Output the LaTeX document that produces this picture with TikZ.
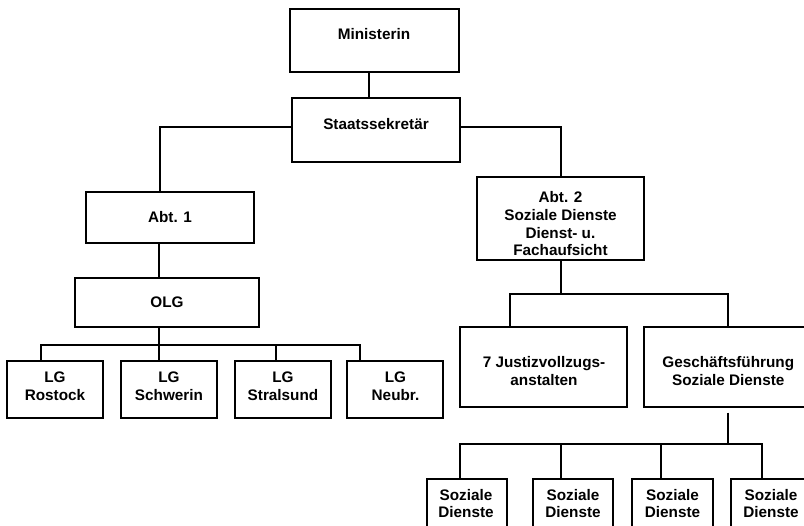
\documentclass[tikz,border=0pt]{standalone}
\usepackage{fontspec}
\setmainfont{Liberation Sans}
\begin{document}
\begin{tikzpicture}[x=1pt,y=-1pt,
  box/.style={draw=black, line width=1.3pt, rectangle, inner sep=0pt, fill=white},
  lbl/.style={font=\bfseries\fontsize{15.3}{17.7}\selectfont, align=center, inner sep=0pt},
  wire/.style={draw=black, line width=1.2pt}]
\useasboundingbox (0,0) rectangle (804,526);
\clip (0,0) rectangle (804,526);
\fill[white] (0,0) rectangle (804,526);

% boxes
\node[box, minimum width=169, minimum height=63] (min) at (374.5,40.5) {};
\node[box, minimum width=168, minimum height=64] (sts) at (376,130) {};
\node[box, minimum width=168, minimum height=51] (a1) at (170,217.5) {};
\node[box, minimum width=184, minimum height=49] (olg) at (167,302.5) {};
\node[box, minimum width=96, minimum height=57] (lg1) at (55,389.5) {};
\node[box, minimum width=96, minimum height=57] (lg2) at (169,389.5) {};
\node[box, minimum width=96, minimum height=57] (lg3) at (283,389.5) {};
\node[box, minimum width=96, minimum height=57] (lg4) at (395,389.5) {};
\node[box, minimum width=167, minimum height=83] (a2) at (560.5,218.5) {};
\node[box, minimum width=167, minimum height=80] (jva) at (543.5,367) {};
\node[box, minimum width=168, minimum height=80] (gf) at (728,367) {};
\node[box, minimum width=80, minimum height=57] (sd1) at (467,507.5) {};
\node[box, minimum width=80, minimum height=57] (sd2) at (573,507.5) {};
\node[box, minimum width=81, minimum height=57] (sd3) at (672.5,507.5) {};
\node[box, minimum width=80, minimum height=57] (sd4) at (771,507.5) {};

% texts
\node[lbl] (tmin) at (374,34) {Ministerin};
\node[lbl] (tsts) at (376,124.5) {Staatssekretär};
\node[lbl] (ta1) at (170,216.7) {Abt. 1};
\node[lbl] (tolg) at (167,302) {OLG};
\node[lbl] (tlg1) at (55,385.9) {LG\\Rostock};
\node[lbl] (tlg2) at (169,385.9) {LG\\Schwerin};
\node[lbl] (tlg3) at (283,385.9) {LG\\Stralsund};
\node[lbl] (tlg4) at (395.5,385.9) {LG\\Neubr.};
\node[lbl] (ta2) at (560.5,223.7) {Abt. 2\\Soziale Dienste\\Dienst- u.\\Fachaufsicht};
\node[lbl] (tjva) at (544,370.8) {7 Justizvollzugs-\\anstalten};
\node[lbl] (tgf) at (728.3,370.8) {Geschäftsführung\\Soziale Dienste};
\node[lbl] (tsd1) at (466,503.5) {Soziale\\Dienste};
\node[lbl] (tsd2) at (573,503.5) {Soziale\\Dienste};
\node[lbl] (tsd3) at (672.5,503.5) {Soziale\\Dienste};
\node[lbl] (tsd4) at (771,503.5) {Soziale\\Dienste};

% connectors
\draw[wire] ([xshift=-5.5pt]min.south) -- ([xshift=-5.5pt]min.south |- sts.north);
\draw[wire] ([yshift=3pt]sts.west) -| ([xshift=-10pt]a1.north);
\draw[wire] ([yshift=3pt]sts.east) -| ([xshift=0.5pt]a2.north);
\draw[wire] ([xshift=-11pt]a1.south) -- ([xshift=-11pt]a1.south |- olg.north);
\coordinate (busL) at (159,345);
\draw[wire] ([xshift=-8pt]olg.south) -- (busL);
\draw[wire] ([xshift=-14pt]lg1.north) |- (busL) -| ([xshift=-35pt]lg4.north);
\draw[wire] ([xshift=-10pt]lg2.north) -- (busL);
\draw[wire] ([xshift=-7pt]lg3.north) -- ([xshift=-7pt]lg3.north |- busL);
\coordinate (busM) at (561,294);
\draw[wire] ([xshift=0.5pt]a2.south) -- (busM);
\draw[wire] ([xshift=-33.5pt]jva.north) |- (busM) -| (gf.north);
\coordinate (busR) at (728,444);
\draw[wire] ([yshift=-5pt]gf.south) -- (busR);
\draw[wire] ([xshift=-7pt]sd1.north) |- (busR) -| ([xshift=-9pt]sd4.north);
\draw[wire] ([xshift=-12pt]sd2.north) -- ([xshift=-12pt]sd2.north |- busR);
\draw[wire] ([xshift=-11.5pt]sd3.north) -- ([xshift=-11.5pt]sd3.north |- busR);
\end{tikzpicture}
\end{document}
